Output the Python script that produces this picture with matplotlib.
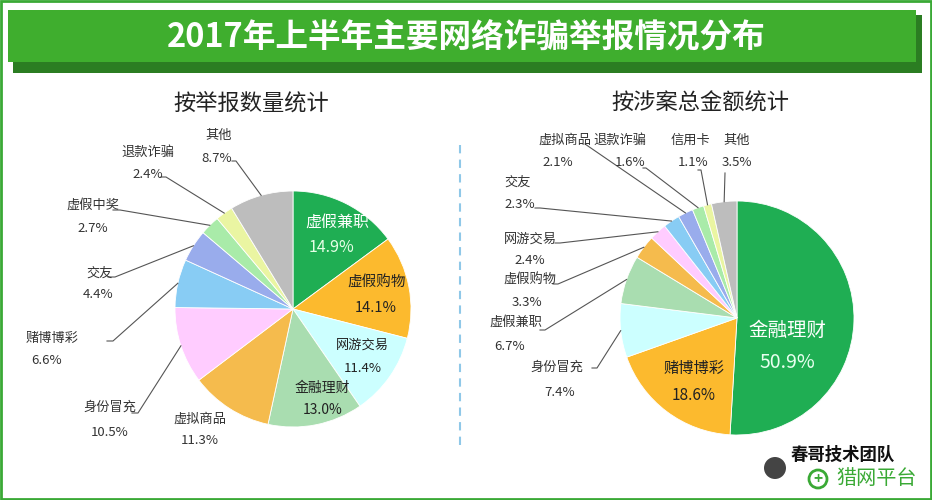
import numpy as np
import matplotlib
matplotlib.use("Agg")
import matplotlib.pyplot as plt
from matplotlib.patches import Rectangle, Circle

plt.rcParams['font.family'] = ['Noto Sans CJK SC', 'DejaVu Sans']

# data
title = "2017年上半年主要网络诈骗举报情况分布"
left_title = "按举报数量统计"
right_title = "按涉案总金额统计"

left_labels = ["虚假兼职", "虚假购物", "网游交易", "金融理财", "虚拟商品", "身份冒充",
               "赌博博彩", "交友", "虚假中奖", "退款诈骗", "其他"]
left_values = [14.9, 14.1, 11.4, 13.0, 11.3, 10.5, 6.6, 4.4, 2.7, 2.4, 8.7]

right_labels = ["金融理财", "赌博博彩", "身份冒充", "虚假兼职", "虚假购物", "网游交易",
                "交友", "虚拟商品", "退款诈骗", "信用卡", "其他"]
right_values = [50.9, 18.6, 7.4, 6.7, 3.3, 2.4, 2.3, 2.1, 1.6, 1.1, 3.5]

colors = ["#1fae53", "#fcba2e", "#ccffff", "#a9ddb0", "#f5bb4d", "#ffccff",
          "#88ccf4", "#99acec", "#a9eba9", "#eaf5a2", "#bdbdbd"]

W, H = 932, 500


def P(x, y):
    # pixel coords (y down) -> axes coords (y up)
    return x, H - y


fig = plt.figure(figsize=(W / 100, H / 100), dpi=100)
ax = fig.add_axes([0, 0, 1, 1])

# frame and banner
ax.add_patch(Rectangle((1, 1), W - 2, H - 2, fill=False, edgecolor="#3aa935", linewidth=2))
ax.add_patch(Rectangle(P(13, 73), 909, 58, facecolor="#2b7d22", edgecolor="none"))
ax.add_patch(Rectangle(P(8, 62), 908, 52, facecolor="#3fae2e", edgecolor="none"))
ax.text(*P(466, 37), title, color="white", fontsize=23.5, fontweight="bold",
        ha="center", va="center")

ax.text(*P(251, 103), left_title, fontsize=16, color="#222222", ha="center", va="center")
ax.text(*P(700, 103), right_title, fontsize=16, color="#222222", ha="center", va="center")

ax.plot([460, 460], [H - 145, H - 445], color="#8fc8e8", linestyle=(0, (4, 3)), linewidth=1.5)


def draw_pie(values, labels, center, radius, outside, inside):
    cx, cy = P(*center)
    wedges, _ = ax.pie(values, colors=colors, startangle=90, counterclock=False,
                       center=(cx, cy), radius=radius, frame=True,
                       wedgeprops=dict(edgecolor="white", linewidth=0.6))
    # outside labels: idx -> (name pos, pct pos, anchor, tail dx)
    for i, (npos, ppos, anchor, tail) in outside.items():
        ax.text(*P(*npos), labels[i], fontsize=9.5, color="#333333", ha="center", va="center")
        ax.text(*P(*ppos), f"{values[i]:.1f}%", fontsize=9.5, color="#333333",
                ha="center", va="center")
        if anchor is None:
            continue
        w = wedges[i]
        mid = np.deg2rad((w.theta1 + w.theta2) / 2)
        sx, sy = cx + radius * np.cos(mid), cy + radius * np.sin(mid)
        ax_, ay_ = P(*anchor)
        ax.plot([sx, ax_, ax_ + tail], [sy, ay_, ay_], color="#555555", linewidth=0.8)
    # inside labels: idx -> (name pos, pct pos, size, name color, pct color)
    for i, (npos, ppos, size, c1, c2) in inside.items():
        ax.text(*P(*npos), labels[i], fontsize=size, color=c1, ha="center", va="center")
        ax.text(*P(*ppos), f"{values[i]:.1f}%", fontsize=size, color=c2,
                ha="center", va="center")


left_outside = {
    10: ((219, 135), (217, 158), (236, 161), -4),
    9: ((148, 152), (148, 174), (166, 177), -5),
    8: ((93, 205), (93, 228), (120, 210), -7),
    7: ((100, 273), (98, 295), (115, 277), -7),
    6: ((52, 338), (47, 361), (113, 341), -6),
    5: ((110, 407), (110, 432), (138, 413), -6),
    4: ((200, 419), (200, 441), None, 0),
}
left_inside = {
    0: ((337, 222), (331, 248), 11.5, "white", "#e6ffe6"),
    1: ((377, 283), (376, 308), 10.5, "#222222", "#222222"),
    2: ((362, 345), (363, 368), 9.5, "#222222", "#222222"),
    3: ((322, 388), (323, 410), 10, "#222222", "#222222"),
}
draw_pie(left_values, left_labels, (293, 309), 118, left_outside, left_inside)

right_outside = {
    7: ((565, 140), (558, 162), (585, 144), 0),
    8: ((620, 140), (630, 162), (646, 168), -3),
    9: ((690, 140), (693, 162), (701, 170), -3),
    10: ((737, 140), (737, 162), (725, 173), 0),
    6: ((518, 182), (520, 204), (540, 208), -5),
    5: ((530, 239), (530, 261), (560, 243), -5),
    4: ((530, 280), (527, 302), (558, 284), -5),
    3: ((516, 322), (510, 347), (545, 330), -5),
    2: ((557, 367), (560, 392), (597, 368), -5),
}
right_inside = {
    0: ((787, 330), (787, 362), 14, "white", "#e6ffee"),
    1: ((694, 368), (694, 395), 11, "#222222", "#222222"),
}
draw_pie(right_values, right_labels, (737, 318), 117, right_outside, right_inside)

# watermark
ax.add_patch(Circle(P(775, 468), 11, facecolor="#444444", edgecolor="none"))
ax.add_patch(Circle(P(818, 479), 9, facecolor="none", edgecolor="#3aa935", linewidth=2))
ax.text(*P(818, 479), "+", color="#3aa935", fontsize=11, fontweight="bold",
        ha="center", va="center")
ax.text(*P(843, 455), "春哥技术团队", fontsize=12.5, fontweight="bold", color="#111111",
        ha="center", va="center")
ax.text(*P(877, 479), "猎网平台", fontsize=14.5, color="#3aa935", ha="center", va="center")

ax.set_xlim(0, W)
ax.set_ylim(0, H)
ax.set_aspect("auto")
ax.axis("off")

fig.savefig("out.png", dpi=100)
